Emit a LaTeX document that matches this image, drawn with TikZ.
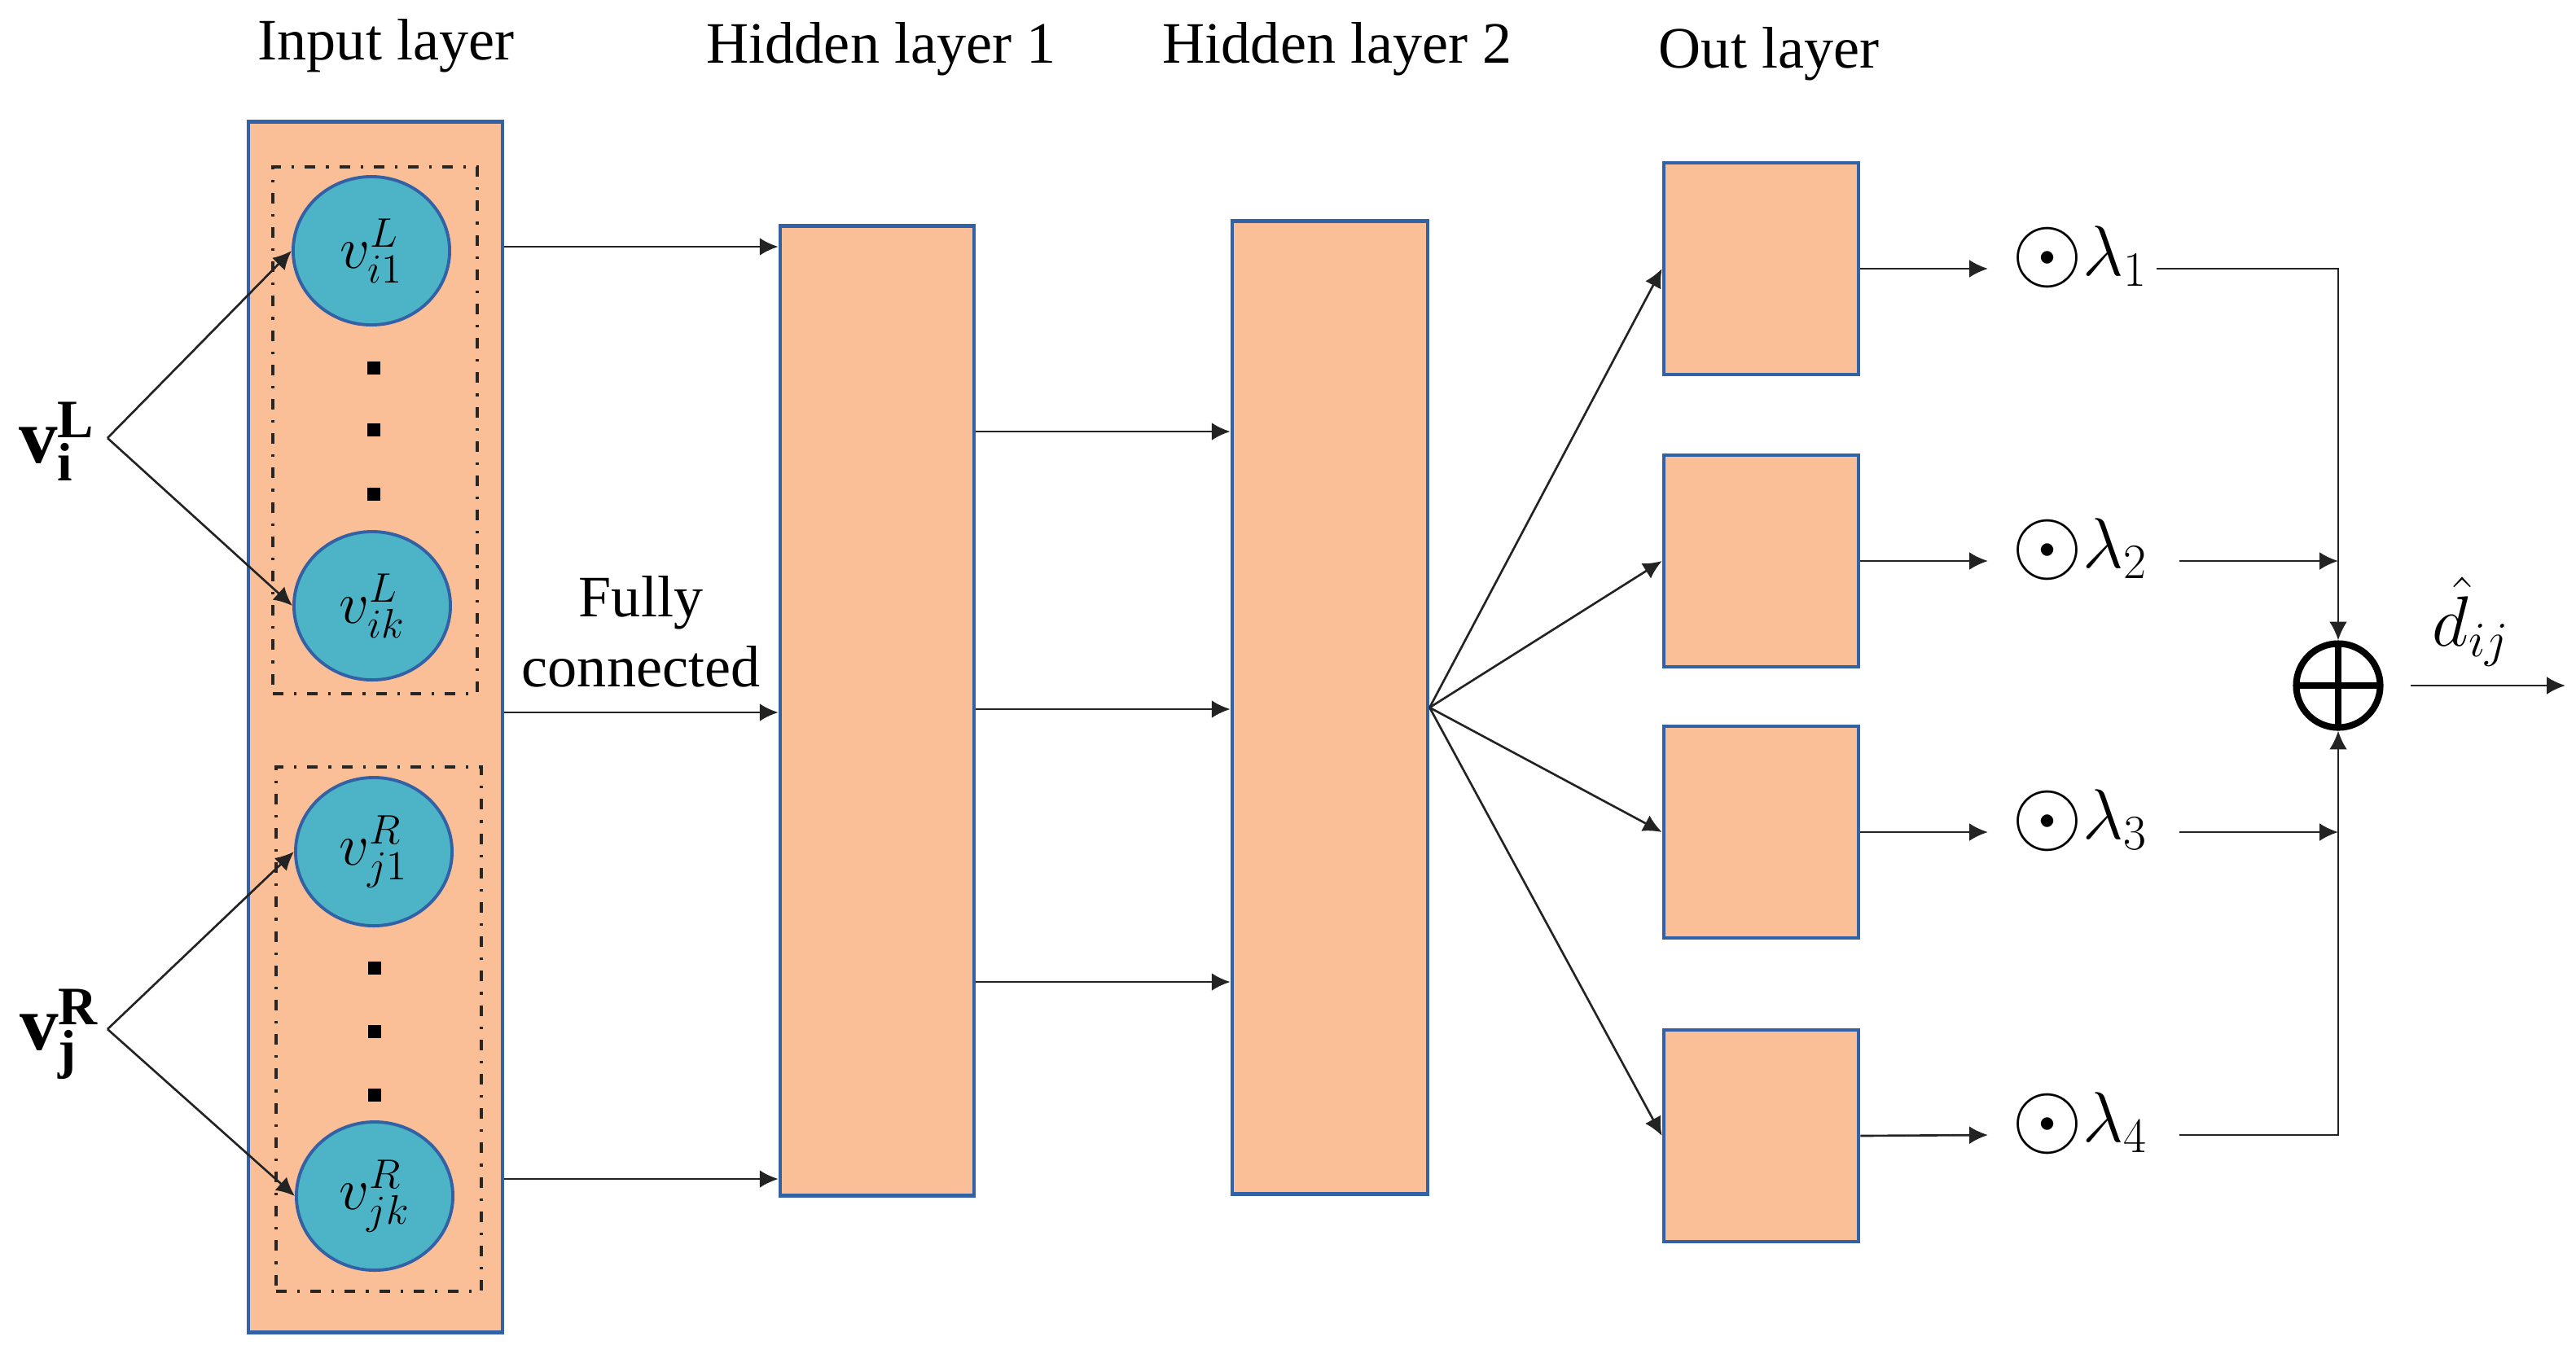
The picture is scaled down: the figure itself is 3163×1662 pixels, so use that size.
\documentclass[tikz,border=0pt]{standalone}
\usepackage{fontspec}
\usepackage{graphicx}
\setmainfont{Liberation Serif}
\usetikzlibrary{arrows.meta,shapes.geometric}
\definecolor{peach}{RGB}{251,191,152}
\definecolor{bord}{RGB}{50,98,165}
\definecolor{nodeteal}{RGB}{76,180,198}
\definecolor{lnc}{RGB}{35,35,35}
\newcommand{\wodot}{\mathord{\vcenter{\hbox{\scalebox{1.28}{$\odot$}}}}}
\begin{document}
\begin{tikzpicture}[x=0.01cm,y=-0.01cm,
  layer/.style={draw=bord, line width=1.3pt, fill=peach, inner sep=0pt},
  neuron/.style={ellipse, draw=bord, line width=1.1pt, fill=nodeteal, minimum width=1.92cm, minimum height=1.82cm, inner sep=0pt, font=\fontsize{22.5}{26}\selectfont},
  grp/.style={draw=black!85, line width=1pt, dash pattern=on 3.7pt off 3.7pt on 0.9pt off 3.7pt, inner sep=0pt},
  dotsq/.style={fill=black, minimum size=0.16cm, inner sep=0pt},
  arr/.style={draw=lnc, line width=0.75pt, -{Latex[length=6.5pt,width=6.2pt]}},
  ttl/.style={font=\fontsize{20.5}{24.5}\selectfont, anchor=base, inner sep=0pt},
  lam/.style={font=\fontsize{25}{29}\selectfont, anchor=west, inner sep=0pt, text height=0.5em, text depth=0pt},
  bigv/.style={font=\fontsize{27}{31}\selectfont, inner sep=0pt}
]
\useasboundingbox (0,0) rectangle (3163,1662);

% titles
\node[ttl] (tIn) at (474,73) {Input layer};
\node[ttl] (tH1) at (1082,77) {Hidden layer 1};
\node[ttl] (tH2) at (1642,77) {Hidden layer 2};
\node[ttl] (tOut) at (2172,83) {Out layer};

% input layer
\node[layer, minimum width=3.12cm, minimum height=14.86cm] (inrect) at (461,893) {};
\node[grp, minimum width=2.51cm, minimum height=6.47cm] (g1) at (460.5,528.5) {};
\node[grp, minimum width=2.52cm, minimum height=6.44cm] (g2) at (465,1264) {};

\node[neuron] (e1) at (456,308) {$v_{i1}^{L}$};
\node[neuron] (e2) at (457,744) {$v_{ik}^{L}$};
\node[neuron] (e3) at (459,1046) {$v_{j1}^{R}$};
\node[neuron] (e4) at (460,1469) {$v_{jk}^{R}$};

\node[dotsq] (d1) at (459,452) {};
\node[dotsq] (d2) at (459,528) {};
\node[dotsq] (d3) at (459,607) {};
\node[dotsq] (d4) at (460,1189) {};
\node[dotsq] (d5) at (460,1267) {};
\node[dotsq] (d6) at (460,1345) {};

% input vectors
\node[bigv] (vL) at (70,542) {$\mathbf{v}_{\mathbf{i}}^{\mathbf{L}}$};
\node[bigv] (vR) at (73,1270) {$\mathbf{v}_{\mathbf{j}}^{\mathbf{R}}$};
\coordinate (aL) at (132,538);
\coordinate (aR) at (132,1264);
\draw[arr] (aL) -- (e1.west);
\draw[arr] (aL) -- (e2.west);
\draw[arr] (aR) -- (e3.west);
\draw[arr] (aR) -- (e4.west);

% hidden layers
\node[layer, minimum width=2.38cm, minimum height=11.9cm] (h1) at (1077,873) {};
\node[layer, minimum width=2.40cm, minimum height=11.94cm] (h2) at (1633,869) {};

\coordinate (yA) at (0,303);
\coordinate (yB) at (0,875);
\coordinate (yC) at (0,1448);
\draw[arr] (inrect.east |- yA) -- (h1.west |- yA);
\draw[arr] (inrect.east |- yB) -- (h1.west |- yB);
\draw[arr] (inrect.east |- yC) -- (h1.west |- yC);
\node[font=\fontsize{20.5}{24.5}\selectfont, align=center, inner sep=0pt] (fc) at (787,776) {Fully\\connected};

\coordinate (yD) at (0,530);
\coordinate (yE) at (0,871);
\coordinate (yF) at (0,1206);
\draw[arr] (h1.east |- yD) -- (h2.west |- yD);
\draw[arr] (h1.east |- yE) -- (h2.west |- yE);
\draw[arr] (h1.east |- yF) -- (h2.west |- yF);

% output layer
\node[layer, minimum width=2.39cm, minimum height=2.6cm] (o1) at (2162.5,330) {};
\node[layer, minimum width=2.39cm, minimum height=2.6cm] (o2) at (2162.5,689) {};
\node[layer, minimum width=2.39cm, minimum height=2.6cm] (o3) at (2162.5,1022) {};
\node[layer, minimum width=2.39cm, minimum height=2.6cm] (o4) at (2162.5,1395) {};
\draw[arr] (h2.east) -- (o1.west);
\draw[arr] (h2.east) -- (o2.west);
\draw[arr] (h2.east) -- (o3.west);
\draw[arr] (h2.east) -- (o4.west);

% weights
\node[lam] (l1) at (2470,330) {$\wodot\lambda_1$};
\node[lam] (l2) at (2470,689) {$\wodot\lambda_2$};
\node[lam] (l3) at (2470,1022) {$\wodot\lambda_3$};
\node[lam] (l4) at (2470,1394) {$\wodot\lambda_4$};
\draw[arr] (o1.east) -- ([xshift=-0.29cm]l1.west);
\draw[arr] (o2.east) -- ([xshift=-0.29cm]l2.west);
\draw[arr] (o3.east) -- ([xshift=-0.29cm]l3.west);
\draw[arr] (o4.east) -- ([xshift=-0.29cm]l4.west);

% sum
\node[circle, draw=black, line width=2.3pt, minimum size=1.03cm, inner sep=0pt,
  path picture={\draw[line width=2.3pt] (path picture bounding box.north) -- (path picture bounding box.south)
                 (path picture bounding box.west) -- (path picture bounding box.east);}] (sum) at (2871,842) {};

\draw[arr] ([xshift=0.1cm]l1.east) -| (sum.north);
\draw[arr] ([xshift=0.38cm]l2.east) -- (sum.north |- l2);
\draw[arr] ([xshift=0.38cm]l3.east) -- (sum.north |- l3);
\draw[arr] ([xshift=0.38cm]l4.east) -| (sum.south);

\coordinate (oend) at (3150,842);
\draw[arr] ([xshift=0.33cm]sum.east) -- (sum.east -| oend);
\node[font=\fontsize{26}{30}\selectfont, anchor=base west, inner sep=0pt] (dhat) at (2986,793) {$\hat{d}_{ij}$};
\end{tikzpicture}
\end{document}
